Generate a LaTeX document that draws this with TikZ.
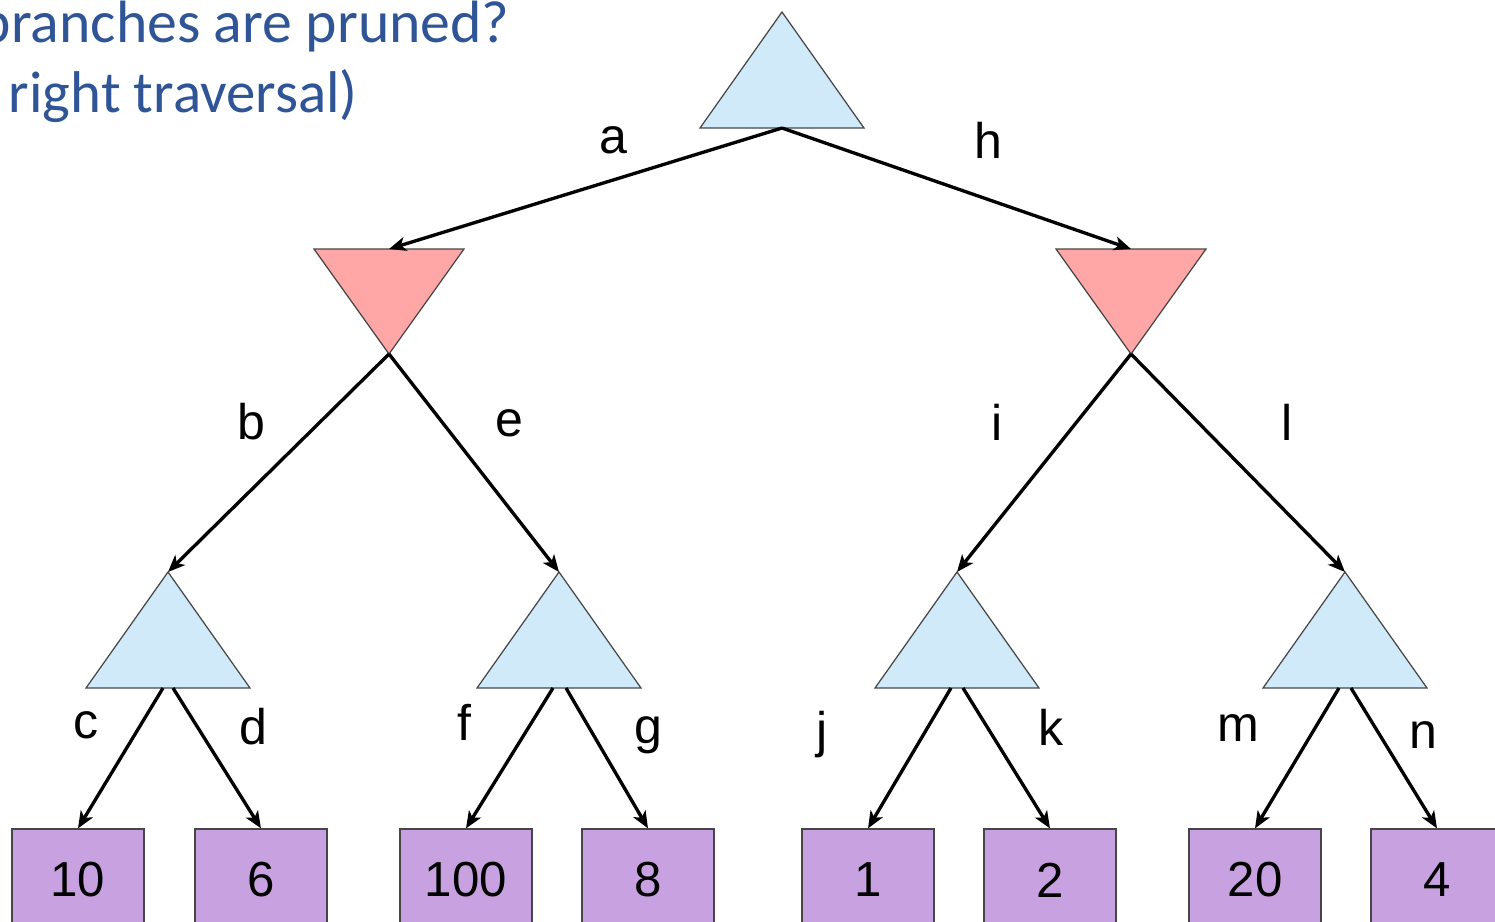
\documentclass[tikz,border=0pt]{standalone}
\usepackage{fontspec}
\setmainfont{Liberation Sans}
\newfontfamily\titlefont{Carlito}
\usetikzlibrary{calc,arrows.meta}
\definecolor{maxcol}{RGB}{208,234,250}
\definecolor{mincol}{RGB}{255,166,166}
\definecolor{leafcol}{RGB}{200,162,224}
\definecolor{titlecol}{RGB}{47,85,151}
\definecolor{bordercol}{RGB}{70,70,70}

\begin{document}
\begin{tikzpicture}[x=0.02cm, y=-0.02cm,
  maxtri/.style={fill=maxcol, draw=bordercol, line width=0.7pt},
  mintri/.style={fill=mincol, draw=bordercol, line width=0.7pt},
  leaf/.style={rectangle, fill=leafcol, draw=bordercol, line width=0.7pt,
    minimum width=2.64cm, minimum height=2.04cm, inner sep=0pt,
    font=\fontsize{28}{30}\selectfont},
  move/.style={line width=1.9pt, -{Stealth[length=3.4mm, width=2.8mm, inset=0.9mm]}},
  lbl/.style={inner sep=0pt, font=\fontsize{28.5}{30}\selectfont}]
  \clip (0,0) rectangle (1495,921);
  % question (cut off on the left)
  \node[anchor=base east, text=titlecol, inner sep=0pt,
    font=\titlefont\fontsize{34}{40}\selectfont] (ask1) at (510,42) {branches are pruned?};
  \node[anchor=base east, text=titlecol, inner sep=0pt,
    font=\titlefont\fontsize{33.5}{40}\selectfont] (ask2) at (358,112) {right traversal)};
  % max triangles: apex and base centre
  \foreach \nm/\x/\y in {root/782/12, maxLL/168/572, maxLR/559/572, maxRL/957/572, maxRR/1345/572}{
    \coordinate (\nm) at (\x,\y);
    \coordinate (\nm-b) at (\x,\y+116);
    \draw[maxtri] (\nm) -- ++(-82,116) -- ++(164,0) -- cycle;
  }
  % min triangles: top centre and apex
  \foreach \nm/\x in {minL/389, minR/1131}{
    \coordinate (\nm-t) at (\x,249);
    \coordinate (\nm) at (\x,354);
    \draw[mintri] (\nm) -- ++(-75,-105) -- ++(150,0) -- cycle;
  }
  % leaves
  \foreach \i/\x/\v in {1/78/10, 2/261/6, 3/466/100, 4/648/8, 5/868/1, 6/1050/2, 7/1255/20, 8/1437/4}{
    \node[leaf] (leaf\i) at (\x,880) {\v};
  }
  % moves
  \draw[move] (root-b) -- (minL-t);
  \draw[move] (root-b) -- (minR-t);
  \draw[move] (minL) -- (maxLL);
  \draw[move] (minL) -- (maxLR);
  \draw[move] (minR) -- (maxRL);
  \draw[move] (minR) -- (maxRR);
  \draw[move] ($(maxLL-b)+(-5,0)$) -- (leaf1.north);
  \draw[move] ($(maxLL-b)+(5,0)$) -- (leaf2.north);
  \draw[move] ($(maxLR-b)+(-6,0)$) -- (leaf3.north);
  \draw[move] ($(maxLR-b)+(7,0)$) -- (leaf4.north);
  \draw[move] ($(maxRL-b)+(-6,0)$) -- (leaf5.north);
  \draw[move] ($(maxRL-b)+(6,0)$) -- (leaf6.north);
  \draw[move] ($(maxRR-b)+(-6,0)$) -- (leaf7.north);
  \draw[move] ($(maxRR-b)+(6,0)$) -- (leaf8.north);
  % branch letters
  \foreach \t/\x/\y in {a/613/140, h/988/140, b/251/422, e/509/423, i/997/422, l/1287/422,
      c/86/725, d/253/727, f/464/722, g/648/735, j/822/735, k/1051/727, m/1238/728, n/1423/735}{
    \node[lbl] (lbl\t) at (\x,\y) {\t};
  }
\end{tikzpicture}
\end{document}
